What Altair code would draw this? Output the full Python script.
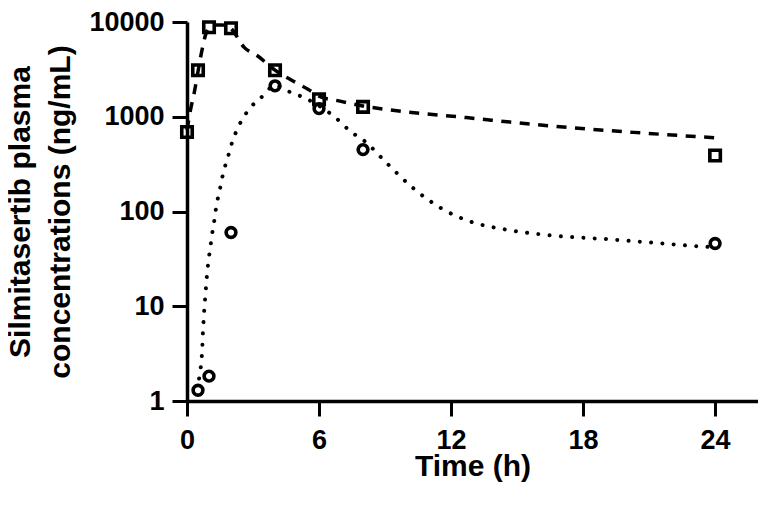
import altair as alt
import pandas as pd

# Observed concentrations (ng/mL)
sq_time = [0, 0.5, 1, 2, 4, 6, 8, 24]
sq_conc = [690, 3100, 8800, 8600, 3100, 1530, 1270, 390]

ci_time = [0.5, 1, 2, 4, 6, 8, 24]
ci_conc = [1.3, 1.83, 60, 2120, 1220, 450, 46]

# Fitted curve (dashed, for squares)
fit_sq_time = [0, 0.15, 0.33, 0.5, 0.7, 0.85, 1.0, 1.3, 1.6, 2.0, 2.6, 3.2, 4.0,
               4.8, 5.5, 6.0, 6.9, 8.0, 9.1, 12.7, 16.4, 20.3, 24]
fit_sq_conc = [720, 1150, 1800, 3000, 5300, 7400, 8700, 9300, 9300, 8500, 5400,
               4400, 3100, 2400, 1950, 1650, 1470, 1300, 1190, 980, 805, 684, 600]

# Fitted curve (dotted, for circles)
fit_ci_time = [0.55, 0.62, 0.67, 0.70, 0.72, 0.75, 0.78, 0.82, 0.86, 0.90, 0.95,
               1.02, 1.09, 1.16, 1.24, 1.31, 1.41, 1.52, 1.62, 1.76, 1.90, 2.05,
               2.22, 2.7, 3.45, 4.0, 4.55, 5.45, 6.7, 7.5, 8.0, 9.1, 10.2, 11.5,
               12.9, 14.4, 16.5, 19.1, 21.6, 23.2, 24]
fit_ci_conc = [1.73, 2.21, 2.93, 3.89, 5.15, 6.83, 8.93, 11.8, 15.7, 20.4, 27,
               36, 47, 61.5, 80, 105, 141, 183, 239, 318, 405, 536,
               684, 1100, 1660, 2150, 1880, 1540, 1000, 680, 570, 320, 183, 110,
               78, 65, 56, 51, 46, 43, 42]

x_ticks = [0, 6, 12, 18, 24]
y_ticks = [1, 10, 100, 1000, 10000]

FONT = "Liberation Sans"

df_sq = pd.DataFrame({"t": sq_time, "c": sq_conc})
df_ci = pd.DataFrame({"t": ci_time, "c": ci_conc})
df_fsq = pd.DataFrame({"t": fit_sq_time, "c": fit_sq_conc})
df_fci = pd.DataFrame({"t": fit_ci_time, "c": fit_ci_conc})

x_enc = alt.X("t:Q", scale=alt.Scale(domain=[0, 25.95], nice=False, zero=False),
              axis=alt.Axis(values=x_ticks, title="Time (h)", format="d"))
y_enc = alt.Y("c:Q", scale=alt.Scale(type="log", domain=[1, 10000], nice=False),
              axis=alt.Axis(values=y_ticks, format="d",
                            title=["Silmitasertib plasma", "concentrations (ng/mL)"]))

line_sq = alt.Chart(df_fsq).mark_line(
    color="black", strokeWidth=3.5, strokeDash=[10, 8.5], interpolate="monotone"
).encode(x=x_enc, y=y_enc)

line_ci = alt.Chart(df_fci).mark_line(
    color="black", strokeWidth=4, strokeDash=[0.01, 11.3], strokeCap="round",
    interpolate="monotone"
).encode(x=x_enc, y=y_enc)

pts_sq = alt.Chart(df_sq).mark_point(
    shape="square", filled=False, color="black", strokeWidth=3.6, size=110, opacity=1
).encode(x=x_enc, y=y_enc)

pts_ci = alt.Chart(df_ci).mark_point(
    shape="circle", filled=False, color="black", strokeWidth=3.6, size=95, opacity=1
).encode(x=x_enc, y=y_enc)

chart = alt.layer(line_sq, line_ci, pts_sq, pts_ci).properties(
    width=571, height=379,
    autosize=alt.AutoSizeParams(type="none"),
    padding={"left": 179, "top": 14, "right": 0, "bottom": 97},
).configure_view(stroke=None).configure_axis(
    grid=False,
    domainColor="black", domainWidth=3.5,
    tickColor="black", tickWidth=3, tickSize=15,
    labelFont=FONT, labelFontSize=27, labelFontWeight="bold", labelColor="black",
    titleFont=FONT, titleFontSize=30, titleFontWeight="bold", titleColor="black",
    labelPadding=8, labelFlush=False,
).configure_axisX(
    labelPadding=11, titlePadding=-2,
).configure_axisY(
    titlePadding=13, titleLineHeight=40,
)

chart.save("out.html", embed_options={"renderer": "svg", "actions": False})
